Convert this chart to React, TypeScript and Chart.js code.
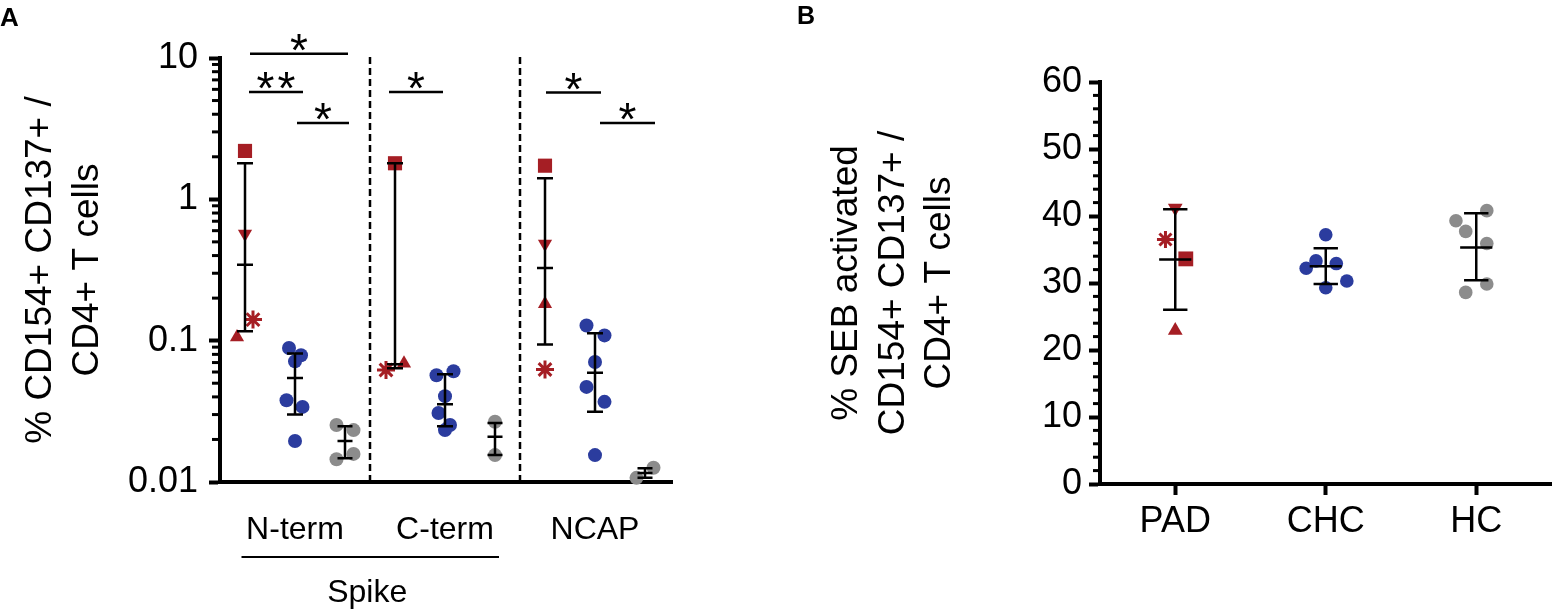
import { useEffect, useRef } from "react";
import Chart from "chart.js/auto";

const FONT = "'Liberation Sans', Arial, Helvetica, sans-serif";
const RED = "#a51e24";
const BLUE = "#2b3c9e";
const GREY = "#8c8c8c";

// ---------- Panel A: antigen-specific T cells (log scale) ----------
const antigensA = ["N-term", "C-term", "NCAP"];
const yTicksA = [0.01, 0.1, 1, 10];

// PAD patients per antigen, marker order: square, down-triangle, up-triangle, asterisk
const padA = [
  [2.2, 0.57, 0.106, 0.141],
  [1.8, null, 0.069, 0.062],
  [1.73, 0.484, 0.182, 0.0625],
];
const padJitA = [
  [0, 0, -0.16, 0.16],
  [0, 0, 0.18, -0.18],
  [0, 0, 0, 0],
];
const chcA = [
  [0.0887, 0.0788, 0.0714, 0.0379, 0.034, 0.0195],
  [0.0569, 0.0607, 0.0405, 0.0308, 0.0253, 0.0233],
  [0.128, 0.109, 0.0706, 0.0471, 0.0369, 0.0155],
];
const chcJitA = [
  [-0.12, 0.12, 0, -0.17, 0.15, 0],
  [-0.17, 0.17, 0, -0.13, 0.1, 0],
  [-0.17, 0.19, 0, -0.17, 0.19, 0],
];
const hcA = [
  [0.0253, 0.0233, 0.0145, 0.0158],
  [0.0267, 0.0155],
  [0.0126, 0.0107],
];
const hcJitA = [
  [-0.17, 0.17, -0.17, 0.17],
  [0, 0],
  [0.17, -0.17],
];

// median with interquartile range
const padMedA = [0.344, 0.068, 0.327];
const padLoA = [0.1165, 0.0638, 0.0938];
const padHiA = [1.8, 1.8, 1.41];
const chcMedA = [0.0545, 0.0355, 0.0594];
const chcLoA = [0.03, 0.0248, 0.0314];
const chcHiA = [0.081, 0.0578, 0.113];
const hcMedA = [0.0195, 0.0209, 0.0116];
const hcLoA = [0.0147, 0.0155, 0.0107];
const hcHiA = [0.0248, 0.0262, 0.0125];

// significance brackets (x in group positions, level in data units)
const sigFromA = [1.1, 1.08, 2.04, 3.88, 7.02, 8.1];
const sigToA = [3.06, 2.16, 3.08, 4.96, 8.12, 9.2];
const sigLevelA = [10.7, 5.74, 3.47, 5.74, 5.7, 3.47];
const sigLabelA = ["*", "**", "*", "*", "*", "*"];

// ---------- Panel B: SEB (linear scale) ----------
const cohortsB = ["PAD", "CHC", "HC"];
const yTicksB = [0, 10, 20, 30, 40, 50, 60];
const padB = [33.6, 41.2, 22.9, 36.5]; // square, down, up, asterisk
const padJitB = [0.07, 0, 0, -0.065];
const chcB = [37.2, 33.3, 32.9, 32.2, 30.3, 29.3];
const chcJitB = [0, -0.065, 0.07, -0.13, 0.14, 0];
const hcB = [40.8, 39.3, 37.7, 35.9, 29.85, 28.6];
const hcJitB = [0.07, -0.135, -0.07, 0.07, 0.07, -0.07];
// mean with SD
const meanB = [33.5, 32.5, 35.3];
const loB = [26.0, 29.85, 30.4];
const hiB = [41.0, 35.2, 40.4];

const padStyles = [
  { pointStyle: "rect", rotation: 0, radiusA: 10, radiusB: 10.5 },
  { pointStyle: "triangle", rotation: 180, radiusA: 8.2, radiusB: 8.5 },
  { pointStyle: "triangle", rotation: 0, radiusA: 8.2, radiusB: 8.5 },
  { pointStyle: "star", rotation: 0, radiusA: 9, radiusB: 8.5 },
];

type Pt = { x: number; y: number | null };

function barSegments(xs: number[], mid: number[], lo: number[], hi: number[], capHalf: number, midHalf: number) {
  const pts: Pt[] = [];
  xs.forEach((x, i) => {
    pts.push({ x, y: lo[i] }, { x, y: hi[i] }, { x, y: null });
    pts.push({ x: x - capHalf, y: lo[i] }, { x: x + capHalf, y: lo[i] }, { x, y: null });
    pts.push({ x: x - capHalf, y: hi[i] }, { x: x + capHalf, y: hi[i] }, { x, y: null });
    pts.push({ x: x - midHalf, y: mid[i] }, { x: x + midHalf, y: mid[i] }, { x, y: null });
  });
  return pts;
}

function minorTicks(values: number[], length: number) {
  return {
    id: "minorTicks",
    beforeDatasetsDraw(chart: any) {
      const { ctx } = chart;
      const y = chart.scales.y;
      const x0 = y.right - 2;
      ctx.save();
      ctx.strokeStyle = "#000";
      ctx.lineWidth = 3;
      values.forEach((v) => {
        const py = y.getPixelForValue(v);
        ctx.beginPath();
        ctx.moveTo(x0 - length, py);
        ctx.lineTo(x0, py);
        ctx.stroke();
      });
      ctx.restore();
    },
  };
}

function drawStars(ctx: CanvasRenderingContext2D, n: number, cx: number, baseY: number) {
  ctx.font = `46px ${FONT}`;
  ctx.textAlign = "center";
  ctx.textBaseline = "alphabetic";
  for (let i = 0; i < n; i++) {
    ctx.fillText("*", cx + (i - (n - 1) / 2) * 21, baseY);
  }
}

const annotateA = {
  id: "annotateA",
  afterDatasetsDraw(chart: any) {
    const { ctx, chartArea } = chart;
    const { x, y } = chart.scales;
    ctx.save();
    ctx.strokeStyle = "#000";
    ctx.fillStyle = "#000";
    ctx.lineWidth = 2.5;
    sigFromA.forEach((from, i) => {
      const x1 = x.getPixelForValue(from);
      const x2 = x.getPixelForValue(sigToA[i]);
      const py = y.getPixelForValue(sigLevelA[i]);
      ctx.beginPath();
      ctx.moveTo(x1, py);
      ctx.lineTo(x2, py);
      ctx.stroke();
      drawStars(ctx, sigLabelA[i].length, (x1 + x2) / 2, py + 12);
    });
    // "Spike" groups N-term and C-term
    const sx1 = x.getPixelForValue(0.93);
    const sx2 = x.getPixelForValue(6.08);
    const sy = chartArea.bottom + 75;
    ctx.lineWidth = 2;
    ctx.beginPath();
    ctx.moveTo(sx1, sy);
    ctx.lineTo(sx2, sy);
    ctx.stroke();
    ctx.font = `32px ${FONT}`;
    ctx.textAlign = "center";
    ctx.textBaseline = "alphabetic";
    ctx.fillText("Spike", (sx1 + sx2) / 2 - 3, chartArea.bottom + 120);
    ctx.font = `bold 26px ${FONT}`;
    ctx.textAlign = "left";
    ctx.fillText("A", 0, 26);
    ctx.restore();
  },
};

const annotateB = {
  id: "annotateB",
  afterDatasetsDraw(chart: any) {
    const { ctx } = chart;
    ctx.save();
    ctx.fillStyle = "#000";
    ctx.font = `bold 25px ${FONT}`;
    ctx.textAlign = "left";
    ctx.textBaseline = "alphabetic";
    ctx.fillText("B", 37, 24);
    ctx.restore();
  },
};

const tickFont = { size: 36, family: FONT };
const titleFont = { size: 37, family: FONT, lineHeight: 1.25 };

function PanelA() {
  const canvasRef = useRef<HTMLCanvasElement>(null);

  useEffect(() => {
    if (!canvasRef.current) return;

    const padSets = padStyles.map((s, m) => ({
      data: antigensA
        .map((_, g) => ({ x: g * 3 + 1 + padJitA[g][m], y: padA[g][m] }))
        .filter((p) => p.y !== null),
      pointStyle: s.pointStyle,
      pointRotation: s.rotation,
      pointRadius: s.radiusA,
      pointBackgroundColor: RED,
      pointBorderColor: RED,
      pointBorderWidth: s.pointStyle === "star" ? 3 : 0,
      clip: false,
      order: 2,
    }));
    const groupSet = (vals: number[][], jit: number[][], offset: number, color: string) => ({
      data: vals.flatMap((arr, g) => arr.map((v, k) => ({ x: g * 3 + 1 + offset + jit[g][k], y: v }))),
      pointStyle: "circle",
      pointRadius: 7,
      pointBackgroundColor: color,
      pointBorderWidth: 0,
      clip: false,
      order: 2,
    });
    const xsPad = antigensA.map((_, g) => g * 3 + 1);
    const xsChc = antigensA.map((_, g) => g * 3 + 2);
    const xsHc = antigensA.map((_, g) => g * 3 + 3);
    const bars = [
      ...barSegments(xsPad, padMedA, padLoA, padHiA, 0.16, 0.16),
      ...barSegments(xsChc, chcMedA, chcLoA, chcHiA, 0.16, 0.16),
      ...barSegments(xsHc, hcMedA, hcLoA, hcHiA, 0.15, 0.15),
    ];
    const separators: Pt[] = [];
    [1, 2].forEach((k) => {
      separators.push({ x: k * 3 + 0.5, y: 0.01 }, { x: k * 3 + 0.5, y: 10.8 }, { x: k * 3 + 0.5, y: null });
    });

    const chart = new Chart(canvasRef.current, {
      type: "scatter",
      data: {
        datasets: [
          {
            data: bars,
            showLine: true,
            borderColor: "#000",
            borderWidth: 2.5,
            pointRadius: 0,
            spanGaps: false,
            clip: false,
            order: 0,
          },
          {
            data: separators,
            showLine: true,
            borderColor: "#000",
            borderWidth: 2.5,
            borderDash: [7, 4],
            pointRadius: 0,
            spanGaps: false,
            clip: false,
            order: 3,
          },
          ...padSets,
          groupSet(chcA, chcJitA, 1, BLUE),
          groupSet(hcA, hcJitA, 2, GREY),
        ] as any,
      },
      options: {
        responsive: false,
        animation: false,
        events: [],
        layout: { padding: { left: 0, right: 27.5, top: 58, bottom: 0 } },
        plugins: { legend: { display: false }, tooltip: { enabled: false } },
        scales: {
          x: {
            type: "linear",
            min: 0.5,
            max: 9.55,
            afterBuildTicks: (s: any) => {
              s.ticks = antigensA.map((_, g) => ({ value: g * 3 + 2 }));
            },
            afterFit: (s: any) => {
              s.height = 127;
            },
            ticks: {
              callback: (_v: any, i: number) => antigensA[i],
              font: { size: 32, family: FONT },
              color: "#000",
              padding: 29,
              autoSkip: false,
              maxRotation: 0,
            },
            grid: { drawOnChartArea: false, drawTicks: false },
            border: { display: true, width: 4, color: "#000" },
          },
          y: {
            type: "logarithmic",
            min: 0.01,
            max: 10,
            afterBuildTicks: (s: any) => {
              s.ticks = yTicksA.map((value) => ({ value, major: true }));
            },
            afterFit: (s: any) => {
              s.width = 220;
            },
            ticks: {
              callback: (v: any) => String(v),
              font: tickFont,
              color: "#000",
              padding: 11,
              autoSkip: false,
            },
            grid: { drawOnChartArea: false, drawTicks: true, tickLength: 11, tickWidth: 4, tickColor: "#000" },
            border: { display: true, width: 4, color: "#000" },
            title: {
              display: true,
              text: ["% CD154+ CD137+ /", "CD4+ T cells"],
              font: titleFont,
              color: "#000",
              padding: { top: 18, bottom: 0 },
            },
          },
        },
      } as any,
      plugins: [
        minorTicks(
          [0.01, 0.1, 1].flatMap((d) => [2, 3, 4, 5, 6, 7, 8, 9].map((k) => d * k)),
          6
        ),
        annotateA,
      ],
    });

    return () => chart.destroy();
  }, []);

  return (
    <canvas
      ref={canvasRef}
      width={700}
      height={609}
      style={{ position: "absolute", left: 0, top: 0, width: 700, height: 609 }}
    />
  );
}

function PanelB() {
  const canvasRef = useRef<HTMLCanvasElement>(null);

  useEffect(() => {
    if (!canvasRef.current) return;

    const padSets = padStyles.map((s, m) => ({
      data: [{ x: 1 + padJitB[m], y: padB[m] }],
      pointStyle: s.pointStyle,
      pointRotation: s.rotation,
      pointRadius: s.radiusB,
      pointBackgroundColor: RED,
      pointBorderColor: RED,
      pointBorderWidth: s.pointStyle === "star" ? 3 : 0,
      clip: false,
      order: 2,
    }));
    const groupSet = (vals: number[], jit: number[], x: number, color: string) => ({
      data: vals.map((v, k) => ({ x: x + jit[k], y: v })),
      pointStyle: "circle",
      pointRadius: 6.8,
      pointBackgroundColor: color,
      pointBorderWidth: 0,
      clip: false,
      order: 2,
    });
    const xs = cohortsB.map((_, i) => i + 1);

    const chart = new Chart(canvasRef.current, {
      type: "scatter",
      data: {
        datasets: [
          {
            data: barSegments(xs, meanB, loB, hiB, 0.081, 0.107),
            showLine: true,
            borderColor: "#000",
            borderWidth: 2.5,
            pointRadius: 0,
            spanGaps: false,
            clip: false,
            order: 0,
          },
          ...padSets,
          groupSet(chcB, chcJitB, 2, BLUE),
          groupSet(hcB, hcJitB, 3, GREY),
        ] as any,
      },
      options: {
        responsive: false,
        animation: false,
        events: [],
        layout: { padding: { left: 0, right: 2, top: 82, bottom: 0 } },
        plugins: { legend: { display: false }, tooltip: { enabled: false } },
        scales: {
          x: {
            type: "linear",
            min: 0.5,
            max: 3.5,
            afterBuildTicks: (s: any) => {
              s.ticks = xs.map((value) => ({ value }));
            },
            afterFit: (s: any) => {
              s.height = 125;
            },
            ticks: {
              callback: (_v: any, i: number) => cohortsB[i],
              font: tickFont,
              color: "#000",
              padding: 5,
              autoSkip: false,
              maxRotation: 0,
            },
            grid: { drawOnChartArea: false, drawTicks: true, tickLength: 11, tickWidth: 4, tickColor: "#000" },
            border: { display: true, width: 4, color: "#000" },
          },
          y: {
            type: "linear",
            min: 0,
            max: 60,
            afterBuildTicks: (s: any) => {
              s.ticks = yTicksB.map((value) => ({ value }));
            },
            afterFit: (s: any) => {
              s.width = 340;
            },
            ticks: {
              font: tickFont,
              color: "#000",
              padding: 7,
              autoSkip: false,
            },
            grid: { drawOnChartArea: false, drawTicks: true, tickLength: 11, tickWidth: 4, tickColor: "#000" },
            border: { display: true, width: 4, color: "#000" },
            title: {
              display: true,
              text: ["% SEB activated", "CD154+ CD137+ /", "CD4+ T cells"],
              font: titleFont,
              color: "#000",
              padding: { top: 64, bottom: 0 },
            },
          },
        },
      } as any,
      plugins: [
        minorTicks(
          Array.from({ length: 31 }, (_, i) => i * 2).filter((v) => v % 10 !== 0),
          5
        ),
        annotateB,
      ],
    });

    return () => chart.destroy();
  }, []);

  return (
    <canvas
      ref={canvasRef}
      width={803}
      height={609}
      style={{ position: "absolute", left: 760, top: 0, width: 803, height: 609 }}
    />
  );
}

export default function App() {
  return (
    <div
      style={{
        position: "absolute",
        left: 0,
        top: 0,
        width: 1563,
        height: 609,
        background: "#fff",
        overflow: "hidden",
      }}
    >
      <PanelA />
      <PanelB />
    </div>
  );
}
